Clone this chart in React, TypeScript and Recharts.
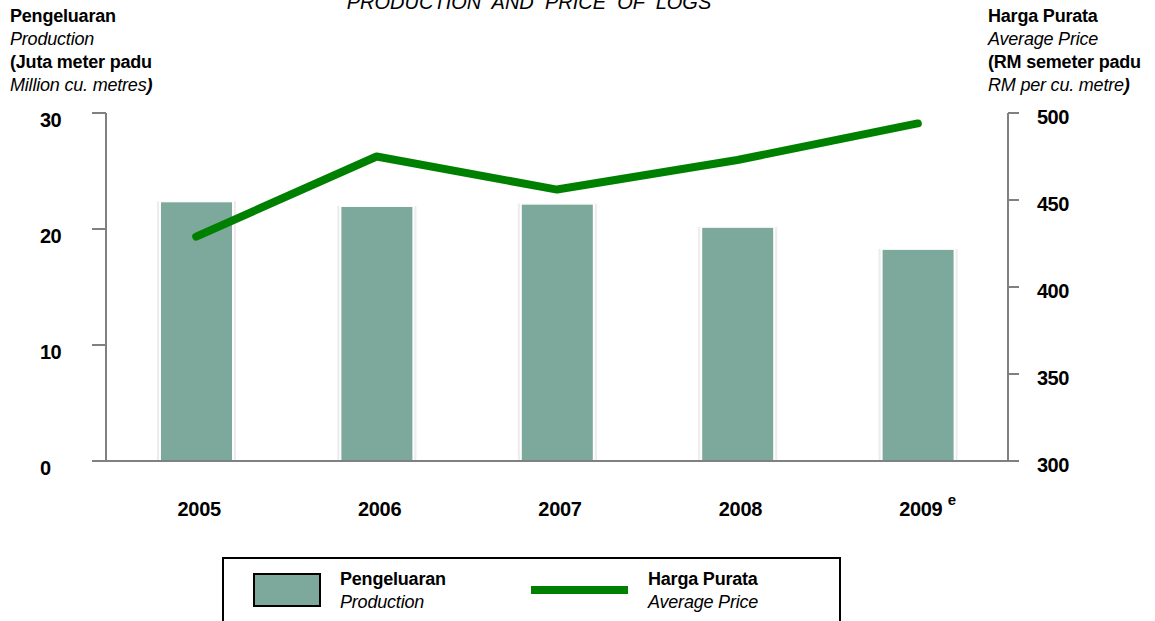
import React from 'react';
import { ComposedChart, Bar, Line, XAxis, YAxis } from 'recharts';

const years = ['2005', '2006', '2007', '2008', '2009'];
const yearNotes = ['', '', '', '', 'e'];
const production = [22.3, 21.9, 22.1, 20.1, 18.2];
const price = [429, 475, 456, 473, 494];
const leftTicks = [0, 10, 20, 30];
const rightTicks = [300, 350, 400, 450, 500];

const data = years.map((y, i) => ({ year: y, note: yearNotes[i], production: production[i], price: price[i] }));

const FONT = '"Liberation Sans", Arial, sans-serif';
const AXIS = '#808080';
const BAR = '#7DA89C';
const LINE = '#008000';

const LeftTick = (p: any) => (
  <text x={p.x - 50} y={p.y + 14} fontFamily={FONT} fontWeight="bold" fontSize={20} letterSpacing={-0.5} fill="#000" textAnchor="start">
    {p.payload.value}
  </text>
);
const RightTick = (p: any) => (
  <text x={p.x + 16} y={p.y + 11} fontFamily={FONT} fontWeight="bold" fontSize={20} letterSpacing={-0.5} fill="#000" textAnchor="start">
    {p.payload.value}
  </text>
);
const XTick = (p: any) => {
  const idx = years.indexOf(p.payload.value);
  const note = idx >= 0 ? yearNotes[idx] : '';
  return (
    <g>
      <text x={p.x + 3} y={p.y + 47} fontFamily={FONT} fontWeight="bold" fontSize={20} letterSpacing={-0.3} fill="#000" textAnchor="middle">
        {p.payload.value}
      </text>
      {note ? (
        <text x={p.x + 30} y={p.y + 36} fontFamily={FONT} fontWeight="bold" fontSize={15} fill="#000" textAnchor="start">
          {note}
        </text>
      ) : null}
    </g>
  );
};

const BarShape = (p: any) => {
  const { x, y, width, height } = p;
  return (
    <g>
      <rect x={x - 4} y={y - 1} width={width + 8} height={height + 1} fill="#ececec" />
      <rect x={x - 2} y={y - 1} width={width + 4} height={height + 1} fill="#ffffff" />
      <rect x={x} y={y} width={width} height={height} fill={BAR} />
    </g>
  );
};

const titleStyle: React.CSSProperties = { fontFamily: FONT, fontSize: 18, letterSpacing: -0.2, lineHeight: '23px', color: '#000', position: 'absolute', whiteSpace: 'nowrap' };

export default function App() {
  return (
    <div style={{ position: 'absolute', left: 0, top: 0, width: 1155, height: 621, background: '#fff', overflow: 'hidden' }}>
      <ComposedChart width={1155} height={621} data={data} margin={{ top: 113, right: 0, bottom: 0, left: 0 }}>
        <XAxis dataKey="year" height={160} axisLine={{ stroke: AXIS, strokeWidth: 2 }} tickLine={false} tick={<XTick />} interval={0} />
        <YAxis yAxisId="left" domain={[0, 30]} ticks={leftTicks} width={106} axisLine={{ stroke: AXIS, strokeWidth: 2 }} tickLine={{ stroke: AXIS, strokeWidth: 2 }} tickSize={14} tick={<LeftTick />} interval={0} />
        <YAxis yAxisId="right" orientation="right" domain={[300, 500]} ticks={rightTicks} width={147} axisLine={{ stroke: AXIS, strokeWidth: 2 }} tickLine={{ stroke: AXIS, strokeWidth: 2 }} tickSize={11} tick={<RightTick />} interval={0} />
        <Bar yAxisId="left" dataKey="production" barSize={71} fill={BAR} shape={<BarShape />} isAnimationActive={false} />
        <Line yAxisId="right" dataKey="price" type="linear" stroke={LINE} strokeWidth={8} strokeLinecap="round" strokeLinejoin="round" dot={false} activeDot={false} isAnimationActive={false} />
      </ComposedChart>

      <div style={{ position: 'absolute', left: 0, top: -9, width: 1058, textAlign: 'center', fontFamily: FONT, fontStyle: 'italic', fontSize: 20, whiteSpace: 'pre', color: '#000' }}>
        {'PRODUCTION  AND  PRICE  OF  LOGS'}
      </div>

      <div style={{ ...titleStyle, left: 10, top: 5 }}>
        <div style={{ fontWeight: 'bold' }}>Pengeluaran</div>
        <div style={{ fontStyle: 'italic' }}>Production</div>
        <div style={{ fontWeight: 'bold' }}>(Juta meter padu</div>
        <div style={{ fontStyle: 'italic' }}>Million cu. metres<span style={{ fontWeight: 'bold' }}>)</span></div>
      </div>
      <div style={{ ...titleStyle, left: 988, top: 5 }}>
        <div style={{ fontWeight: 'bold' }}>Harga Purata</div>
        <div style={{ fontStyle: 'italic' }}>Average Price</div>
        <div style={{ fontWeight: 'bold' }}>(RM semeter padu</div>
        <div style={{ fontStyle: 'italic' }}>RM per cu. metre<span style={{ fontWeight: 'bold' }}>)</span></div>
      </div>

      <div style={{ position: 'absolute', left: 222, top: 557, width: 615, height: 80, border: '2px solid #000', fontFamily: FONT, fontSize: 18, letterSpacing: -0.2, lineHeight: '23px' }}>
        <div style={{ position: 'absolute', left: 29, top: 14, width: 64, height: 30, background: BAR, border: '2px solid #000' }} />
        <div style={{ position: 'absolute', left: 116, top: 9 }}>
          <div style={{ fontWeight: 'bold' }}>Pengeluaran</div>
          <div style={{ fontStyle: 'italic' }}>Production</div>
        </div>
        <div style={{ position: 'absolute', left: 307, top: 27, width: 97, height: 8, background: LINE }} />
        <div style={{ position: 'absolute', left: 424, top: 9 }}>
          <div style={{ fontWeight: 'bold' }}>Harga Purata</div>
          <div style={{ fontStyle: 'italic' }}>Average Price</div>
        </div>
      </div>
    </div>
  );
}
